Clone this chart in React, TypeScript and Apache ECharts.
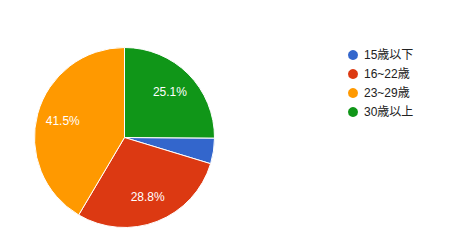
import React, { useEffect, useRef } from "react";
import * as echarts from "echarts";

const categories = ["15歳以下", "16~22歳", "23~29歳", "30歳以上"];
const values = [4.6, 28.8, 41.5, 25.1];
const colors = ["#3366cc", "#dc3912", "#ff9900", "#109618"];

export default function App() {
  const ref = useRef<HTMLDivElement>(null);
  useEffect(() => {
    document.body.style.margin = "0";
    const chart = echarts.init(ref.current!, null, { renderer: "svg" });
    const total = values.reduce((a, b) => a + b, 0);
    const lastShare = values[values.length - 1] / total;
    const startAngle = 90 - lastShare * 360;
    const data = categories.map((name, i) => ({ name, value: values[i] }));
    chart.setOption({
      animation: false,
      color: colors,
      textStyle: { fontFamily: "Arial, 'Liberation Sans', 'Noto Sans CJK JP', sans-serif" },
      legend: {
        orient: "vertical",
        left: 346,
        top: 48,
        padding: 0,
        icon: "circle",
        itemWidth: 12,
        itemHeight: 12,
        itemGap: 5,
        textStyle: { fontSize: 12, color: "#222222", lineHeight: 12 },
        data: categories,
      },
      series: [
        {
          type: "pie",
          center: [124.5, 137.5],
          radius: [0, 90],
          startAngle,
          clockwise: true,
          data,
          label: { show: false },
          labelLine: { show: false },
          itemStyle: { borderColor: "#ffffff", borderWidth: 1 },
          emphasis: { disabled: true },
        },
        {
          type: "pie",
          center: [124.5, 137.5],
          radius: [32, 90],
          startAngle,
          clockwise: true,
          silent: true,
          legendHoverLink: false,
          data: data.map((d) => ({ ...d })),
          itemStyle: { color: "rgba(0,0,0,0)" },
          label: {
            show: true,
            position: "inside",
            color: "#ffffff",
            fontSize: 12,
            formatter: (p: any) => (p.percent < 5 ? "" : p.value.toFixed(1) + "%"),
          },
          labelLine: { show: false },
          emphasis: { disabled: true },
        },
      ],
    });
    return () => chart.dispose();
  }, []);
  return <div ref={ref} style={{ width: 462, height: 245 }} />;
}
